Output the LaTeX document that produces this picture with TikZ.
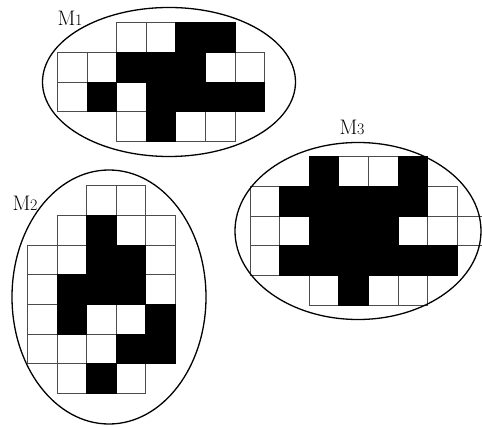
\documentclass[tikz,border=0pt]{standalone}
\usetikzlibrary{calc}
\tikzset{
  cellw/.style={fill=white,draw=black!70,line width=0.8pt},
  cellb/.style={fill=black,draw=black,line width=0.8pt},
  ring/.style={draw=black,line width=1.3pt},
  lab/.style={inner sep=0pt,font=\fontsize{21}{21}\selectfont}
}
\newcommand{\mygrid}[3]{%
  \foreach \c/\r/\f in {#3} {\path[cellw] (#1+\c*29.6,#2+\r*29.65) rectangle ++(29.6,29.65);}
  \foreach \c/\r/\f in {#3} {\ifnum\f=1 \path[cellb] (#1+\c*29.6,#2+\r*29.65) rectangle ++(29.6,29.65);\fi}
}
\begin{document}
\begin{tikzpicture}[x=1pt,y=-1pt]
\useasboundingbox (0,0) rectangle (482,427);
\clip (0,0) rectangle (482,427);
% M1
\mygrid{57.3}{22.7}{2/0/0,3/0/0,4/0/1,5/0/1,
  0/1/0,1/1/0,2/1/1,3/1/1,4/1/1,5/1/0,6/1/0,
  0/2/0,1/2/1,2/2/0,3/2/1,4/2/1,5/2/1,6/2/1,
  2/3/0,3/3/1,4/3/0,5/3/0}
\draw[ring] (169,82) ellipse [x radius=126.5, y radius=74.5];
\node[lab] (m1) at (70,18) {M\kern-0.5pt{\fontsize{16}{16}\selectfont 1}};
% M2
\mygrid{27.3}{185.7}{2/0/0,3/0/0,
  1/1/0,2/1/1,3/1/0,4/1/0,
  0/2/0,1/2/0,2/2/1,3/2/1,4/2/0,
  0/3/0,1/3/1,2/3/1,3/3/1,4/3/0,
  0/4/0,1/4/1,2/4/0,3/4/0,4/4/1,
  0/5/0,1/5/0,2/5/0,3/5/1,4/5/1,
  1/6/0,2/6/1,3/6/0}
\draw[ring] (109,297) ellipse [x radius=97, y radius=127];
\node[lab] (m2) at (25,203) {M\kern-0.5pt{\fontsize{16}{16}\selectfont 2}};
% M3
\mygrid{250}{156.7}{2/0/1,3/0/0,4/0/0,5/0/1,
  0/1/0,1/1/1,2/1/1,3/1/1,4/1/1,5/1/1,6/1/0,
  0/2/0,1/2/0,2/2/1,3/2/1,4/2/1,5/2/0,6/2/0,7/2/0,
  0/3/0,1/3/1,2/3/1,3/3/1,4/3/1,5/3/1,6/3/1,
  2/4/0,3/4/1,4/4/0,5/4/0}
\draw[ring] (358,231) ellipse [x radius=123, y radius=88.5];
\node[lab] (m3) at (352,127) {M\kern-0.5pt{\fontsize{16}{16}\selectfont 3}};
\end{tikzpicture}
\end{document}
